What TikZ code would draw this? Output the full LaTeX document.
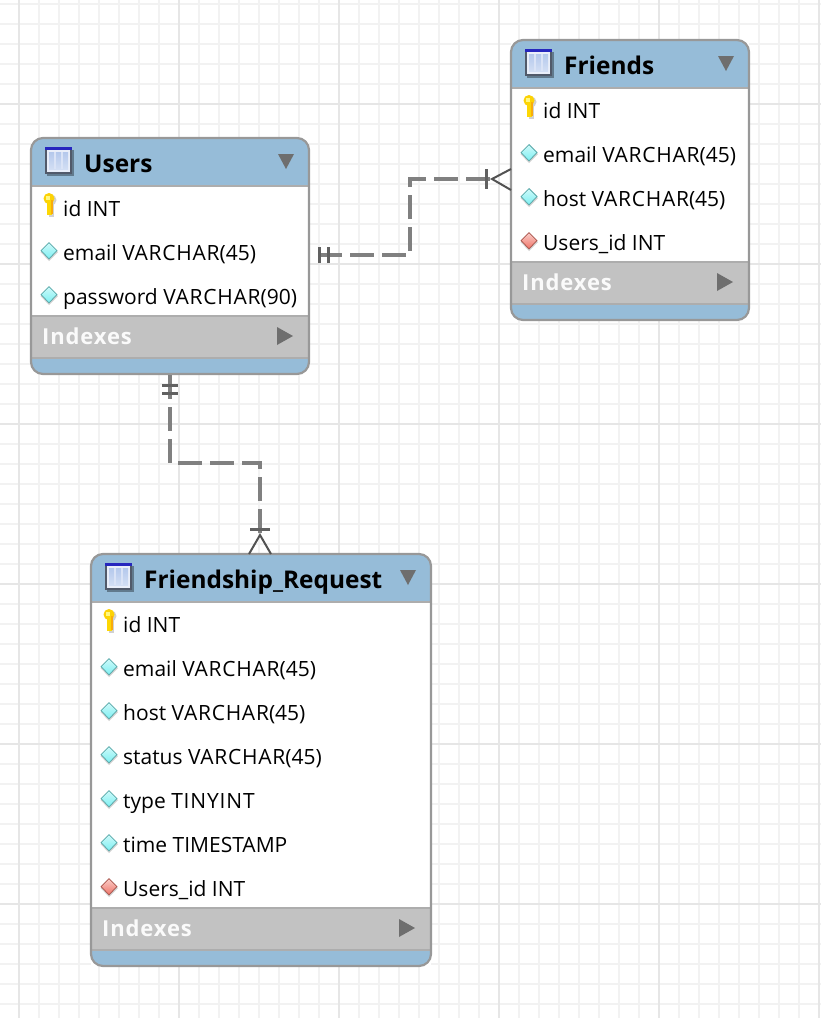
\documentclass[tikz,border=0pt]{standalone}
\usepackage{fontspec}
\setmainfont{Open Sans}
\usetikzlibrary{calc}
\definecolor{headblue}{HTML}{96BCD8}
\definecolor{idxgrey}{HTML}{C2C2C2}
\definecolor{rimgrey}{HTML}{989898}
\definecolor{gridminor}{HTML}{F2F2F2}
\definecolor{gridmajor}{HTML}{E6E6E6}
\definecolor{markgrey}{HTML}{6E6E6E}
\definecolor{attrcyan}{HTML}{7FF0F2}
\definecolor{attrred}{HTML}{F0786C}
\definecolor{iconfill}{HTML}{B4C8EC}
\tikzset{
  tablebox/.style={draw=none,fill=white,inner sep=0pt,outer sep=0pt},
  titletext/.style={anchor=base west,inner sep=0pt,font=\bfseries\fontsize{24.4}{24}\selectfont},
  rowtext/.style={anchor=base west,inner sep=0pt,font=\fontsize{21}{21}\selectfont},
  idxtext/.style={anchor=base west,inner sep=0pt,text=white!92!idxgrey,font=\bfseries\fontsize{22}{22}\selectfont\addfontfeature{LetterSpace=4}},
  reldash/.style={draw=gray,line width=4pt,dash pattern=on 24pt off 8pt},
  relbar/.style={draw=black!62,line width=3pt},
  relcrow/.style={draw=black!68,line width=2pt}
}
\newcommand{\vchar}{{\addfontfeature{LetterSpace=3.5}VARCHAR}}
\newcommand{\tinyint}{{\addfontfeature{LetterSpace=4}TINYINT}}
% #1 name, #2 title, #3 left, #4 top, #5 width, #6 height
\newcommand{\ertable}[6]{
  \pgfmathsetmacro{\xr}{#3+#5}
  \pgfmathsetmacro{\yb}{#4+#6}
  \node[tablebox,minimum width=#5pt,minimum height=#6pt] (#1) at (#3+#5/2,#4+#6/2) {};
  \fill[headblue] (#3,#4+48) [rounded corners=12pt] -- (#3,#4) -- (\xr,#4) [sharp corners] -- (\xr,#4+48) -- cycle;
  \fill[idxgrey] (#3,\yb-58) rectangle (\xr,\yb-16);
  \fill[headblue] (#3,\yb-16) [sharp corners] -- (\xr,\yb-16) [rounded corners=12pt] -- (\xr,\yb) -- (#3,\yb) [sharp corners] -- (#3,\yb-16) -- cycle;
  \draw[rimgrey!80!white,line width=2pt] (#3,#4+48) -- (\xr,#4+48);
  \draw[rimgrey!80!white,line width=2pt] (#3,\yb-58) -- (\xr,\yb-58);
  \draw[rimgrey!80!white,line width=2pt] (#3,\yb-16) -- (\xr,\yb-16);
  \draw[rimgrey,line width=2.2pt,rounded corners=12pt] (#3,#4) rectangle (\xr,\yb);
  % table icon
  \fill[black!35!headblue] (#3+16,#4+12) rectangle (#3+43,#4+38);
  \fill[black!55!iconfill] (#3+14,#4+9) rectangle (#3+41,#4+36);
  \fill[white!70!iconfill] (#3+16,#4+12) rectangle (#3+39,#4+34);
  \shade[top color=iconfill,bottom color=iconfill!60!white] (#3+18,#4+14) rectangle (#3+37,#4+31);
  \fill[blue!70!black!85!white] (#3+14,#4+9) rectangle (#3+41,#4+12);
  \foreach \k in {24,31} \draw[white!50!iconfill,line width=1.5pt] (#3+\k,#4+14) -- (#3+\k,#4+31);
  \node[titletext] (#1-title) at (#3+53,#4+34) {#2};
  % triangles
  \fill[markgrey] (\xr-31,#4+16) -- (\xr-15,#4+16) -- (\xr-23,#4+31) -- cycle;
  \fill[markgrey] (\xr-32,\yb-47) -- (\xr-16,\yb-38) -- (\xr-32,\yb-29) -- cycle;
  \node[idxtext] (#1-idx) at (#3+11,\yb-30) {Indexes};
}
\newcommand{\keyrow}[4]{
  \fill[black!18] (#2+20,#3-8) circle (5.5pt);
  \fill[black!18] (#2+18,#3-8) rectangle (#2+23,#3+9);
  \fill[yellow!70!orange] (#2+18,#3-9.5) circle (5.5pt);
  \fill[yellow!75!orange] (#2+15.5,#3-8) rectangle (#2+20.5,#3+7);
  \fill[yellow!50!white] (#2+15,#3-12) rectangle (#2+19,#3-8);
  \fill[yellow!35!orange] (#2+20,#3-8) rectangle (#2+22,#3+6);
  \node[rowtext] (#1) at (#2+32,#3+8) {#4};
}
\newcommand{\colrow}[5]{
  \fill[black!18] (#2+9.5,#3) -- (#2+18,#3-8.5) -- (#2+27,#3) -- (#2+18,#3+9) -- cycle;
  \fill[black!30!#5] (#2+9.5,#3-1.5) -- (#2+18,#3-10) -- (#2+26.5,#3-1.5) -- (#2+18,#3+7.5) -- cycle;
  \shade[top color=#5!40!white,bottom color=#5] (#2+10.8,#3-1.5) -- (#2+18,#3-8.7) -- (#2+25.2,#3-1.5) -- (#2+18,#3+6.2) -- cycle;
  \node[rowtext] (#1) at (#2+32,#3+8) {#4};
}
\begin{document}
\begin{tikzpicture}[x=1pt,y=-1pt]
        \useasboundingbox (0,0) rectangle (821,1018);
        \fill[white] (0,0) rectangle (821,1018);
        % grid
        \foreach \gx in {19,39,...,819} \draw[gridminor,line width=2pt] (\gx,0) -- (\gx,1018);
        \foreach \gy in {4,24,...,1004} \draw[gridminor,line width=2pt] (0,\gy) -- (821,\gy);
        \foreach \gx in {19,179,...,819} \draw[gridmajor,line width=2pt] (\gx,0) -- (\gx,1018);
        \foreach \gy in {104,264,...,904} \draw[gridmajor,line width=2pt] (0,\gy) -- (821,\gy);
        % table users
        \ertable{users}{Users}{31}{138}{278}{236}
        \keyrow{users-id}{31}{208}{id INT}
        \colrow{users-email}{31}{252}{email \vchar(45)}{attrcyan}
        \colrow{users-password}{31}{296}{password \vchar(90)}{attrcyan}
        % table friends
        \ertable{friends}{Friends}{511}{40}{238}{280}
        \keyrow{friends-id}{511}{110}{id INT}
        \colrow{friends-email}{511}{154}{email \vchar(45)}{attrcyan}
        \colrow{friends-host}{511}{198}{host \vchar(45)}{attrcyan}
        \colrow{friends-users}{511}{242}{Users\_id INT}{attrred}
        % table friendship request
        \ertable{request}{Friendship\_Request}{91}{554}{340}{412}
        \keyrow{request-id}{91}{624}{id INT}
        \colrow{request-email}{91}{668}{email \vchar(45)}{attrcyan}
        \colrow{request-host}{91}{712}{host \vchar(45)}{attrcyan}
        \colrow{request-status}{91}{756}{status \vchar(45)}{attrcyan}
        \colrow{request-type}{91}{800}{type \tinyint}{attrcyan}
        \colrow{request-time}{91}{844}{time TIMESTAMP}{attrcyan}
        \colrow{request-users}{91}{888}{Users\_id INT}{attrred}
        % relation users - friends
        \coordinate (usersright) at (318,255);
        \coordinate (friendsbar) at (490,179);
        \coordinate (friendscrow) at (492,179);
        \draw[reldash] (usersright) -- (410,255) -- (410,179) -- (friendsbar);
        \draw[relbar] ([xshift=1pt,yshift=-8pt]usersright) -- ([xshift=1pt,yshift=8pt]usersright);
        \draw[relbar] ([xshift=10pt,yshift=-8pt]usersright) -- ([xshift=10pt,yshift=8pt]usersright);
        \draw[relbar] (486,169) -- (486,189);
        \draw[relcrow] (friends.west |- 0,169) -- (friendscrow) -- (friends.west |- 0,190);
        % relation users - request
        \coordinate (usersbottom) at (170,375);
        \coordinate (requestbar) at (260,533);
        \coordinate (requestcrow) at (260,535);
        \draw[reldash] (usersbottom) -- (170,463) -- (260,463) -- (requestbar);
        \draw[relbar] (162,385) -- (178,385);
        \draw[relbar] (162,393) -- (178,393);
        \draw[relbar] (250,529) -- (270,529);
        \draw[relcrow] (249,554) -- (requestcrow) -- (271,554);
    \end{tikzpicture}
\end{document}
